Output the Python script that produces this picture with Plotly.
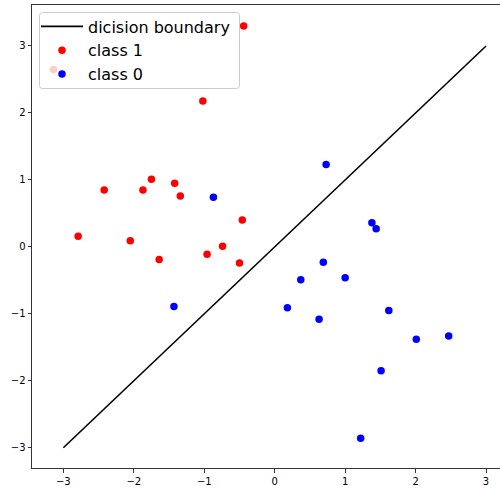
import plotly.graph_objects as go

# Decision boundary endpoints
boundary_x = [-3, 3]
boundary_y = [-3, 3]

# Class 1 samples
class1_x = [-0.44, -1.02, -3.14, -2.42, -1.87, -1.75, -1.42, -1.34,
            -2.79, -2.05, -1.64, -0.96, -0.74, -0.50, -0.46]
class1_y = [3.30, 2.18, 2.65, 0.85, 0.85, 1.01, 0.95, 0.76,
            0.16, 0.09, -0.19, -0.11, 0.01, -0.24, 0.40]

# Class 0 samples
class0_x = [0.73, -0.87, -1.43, 1.38, 1.44, 0.69, 0.37, 1.00,
            0.18, 0.63, 1.62, 2.01, 2.47, 1.51, 1.22]
class0_y = [1.23, 0.74, -0.89, 0.36, 0.27, -0.23, -0.49, -0.46,
            -0.91, -1.08, -0.95, -1.38, -1.33, -1.85, -2.86]

tick_vals = [-3, -2, -1, 0, 1, 2, 3]

W, H = 500, 489
ML, MR, MT, MB = 32, 0, 5, 21
PW, PH = W - ML - MR, H - MT - MB


def px_to_paper(px, py):
    return (px - ML) / PW, (H - MB - py) / PH


def rounded_box(x0, y0, x1, y1, r):
    """SVG path of a rounded rectangle given in pixel coords, output in paper coords."""
    rx, ry = r / PW, r / PH
    a, b = px_to_paper(x0, y1)  # lower-left
    c, d = px_to_paper(x1, y0)  # upper-right
    return (f"M{a + rx},{b} L{c - rx},{b} Q{c},{b} {c},{b + ry} "
            f"L{c},{d - ry} Q{c},{d} {c - rx},{d} "
            f"L{a + rx},{d} Q{a},{d} {a},{d - ry} "
            f"L{a},{b + ry} Q{a},{b} {a + rx},{b} Z")


fig = go.Figure()
fig.add_trace(go.Scatter(x=boundary_x, y=boundary_y, mode="lines",
                         line=dict(color="black", width=1.6),
                         name="dicision boundary"))
fig.add_trace(go.Scatter(x=class1_x, y=class1_y, mode="markers",
                         marker=dict(color="#ff0000", size=7.5, line=dict(width=0)),
                         name="class 1"))
fig.add_trace(go.Scatter(x=class0_x, y=class0_y, mode="markers",
                         marker=dict(color="#0000ff", size=7.5, line=dict(width=0)),
                         name="class 0"))

axis_common = dict(
    showgrid=False, zeroline=False, showline=True, linecolor="#333333",
    linewidth=1, ticks="outside", ticklen=3.5, tickwidth=0.8,
    tickcolor="#333333", tickvals=tick_vals,
    tickfont=dict(family="DejaVu Sans", size=10, color="black"),
)

# Legend frame: semi-transparent white with rounded corners
fig.add_shape(type="path", xref="paper", yref="paper", layer="above",
              path=rounded_box(39.5, 12.5, 239.5, 88.5, 3),
              fillcolor="rgba(255,255,255,0.8)",
              line=dict(color="#cccccc", width=1))

fig.update_layout(
    width=W, height=H,
    margin=dict(l=ML, r=MR, t=MT, b=MB),
    paper_bgcolor="white", plot_bgcolor="white",
    xaxis=dict(range=[-3.445, 3.198], mirror=True, **axis_common),
    yaxis=dict(range=[-3.303, 3.612], **axis_common),
    legend=dict(
        x=px_to_paper(36, 0)[0], y=px_to_paper(0, 9.5)[1],
        xanchor="left", yanchor="top",
        bgcolor="rgba(0,0,0,0)", borderwidth=0,
        font=dict(family="DejaVu Sans", size=16, color="black"),
        itemwidth=42, tracegroupgap=0,
    ),
    showlegend=True,
)

fig.write_html("out.html")
